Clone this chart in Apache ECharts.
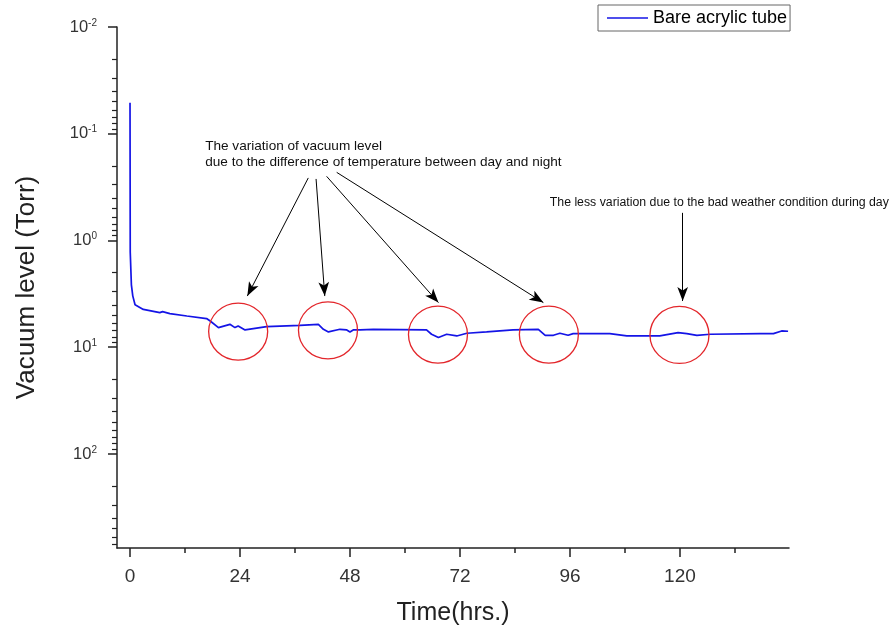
<!DOCTYPE html>
<html>
<head>
<meta charset="utf-8">
<script src="https://cdn.jsdelivr.net/npm/echarts@6/dist/echarts.min.js"></script>
<style>
html,body{margin:0;padding:0;background:#fff;}
#chart{width:895px;height:632px;}
</style>
</head>
<body>
<div id="chart"></div>
<script>
// ---- data ----
const hours = [0, 0.05, 0.3, 0.6, 1.1, 2.9, 6.5, 7.1, 8.7, 12.4, 16.7, 17.5, 19.3, 21.8, 22.9, 23.6, 25.1, 29.8, 37.1, 41.1, 42.2, 43.3, 45.8, 47.3, 48.0, 48.7, 50.2, 53.1, 64.7, 65.8, 67.3, 69.1, 71.3, 73.5, 77.8, 83.6, 89.1, 90.6, 92.4, 93.8, 95.6, 96.7, 104.7, 108.4, 115.6, 119.6, 121.5, 123.7, 126.6, 137.5, 140.4, 142.2, 143.6];
const pressure = [0.0513, 1.29, 2.6, 3.3, 4.0, 4.42, 4.74, 4.64, 4.84, 5.10, 5.39, 5.68, 6.55, 6.10, 6.55, 6.32, 6.89, 6.41, 6.23, 6.10, 6.79, 7.19, 6.79, 6.89, 7.19, 6.89, 6.89, 6.79, 6.89, 7.56, 8.12, 7.56, 7.84, 7.40, 7.19, 6.89, 6.79, 7.73, 7.73, 7.40, 7.73, 7.45, 7.45, 7.84, 7.84, 7.29, 7.45, 7.73, 7.56, 7.45, 7.45, 7.04, 7.08];
const seriesName = 'Bare acrylic tube';

const xTickValues = [0, 24, 48, 72, 96, 120];
const xMinorTickValues = [12, 36, 60, 84, 108, 132];
const yTickValues = [0.01, 0.1, 1, 10, 100];
const yMinorTickValues = [0.02,0.03,0.04,0.05,0.06,0.07,0.08,0.09,
  0.2,0.3,0.4,0.5,0.6,0.7,0.8,0.9,
  2,3,4,5,6,7,8,9,
  20,30,40,50,60,70,80,90,
  200,300,400,500,600,700];

// annotation circles (hour, Torr)
const circleCenters = [[23.6, 7.13], [43.2, 6.94], [67.2, 7.61], [91.4, 7.61], [119.9, 7.67]];
// arrows: [fromHour, fromTorr, toHour, toTorr]
const arrows = [
  [38.9, 0.2594, 25.6, 3.316],
  [40.6, 0.2651, 42.5, 3.316],
  [42.9, 0.2506, 67.3, 3.82],
  [45.1, 0.230, 90.2, 3.82],
  [120.6, 0.551, 120.6, 3.69]
];
const noteDay = ['The variation of vacuum level', 'due to the difference of temperature between day and night'];
const noteDayAt = [16.4, 0.155];
const noteWeather = 'The less variation due to the bad weather condition during day';
const noteWeatherAt = [91.6, 0.4446];

const FONT = 'Arial, "Liberation Sans", sans-serif';

const chart = echarts.init(document.getElementById('chart'), null, {renderer: 'canvas'});

const markPoints = circleCenters.map(c => ({
  coord: c,
  symbol: 'circle',
  symbolSize: [59, 57],
  itemStyle: {color: 'rgba(0,0,0,0)', borderColor: '#e3262b', borderWidth: 1.3},
  label: {show: false}
}));
markPoints.push({
  coord: noteDayAt, symbol: 'circle', symbolSize: 0,
  label: {show: true, position: [0, 0], align: 'left', verticalAlign: 'middle',
    formatter: noteDay.join('\n'), fontSize: 13.6, lineHeight: 15.5, color: '#111', fontFamily: FONT}
});
markPoints.push({
  coord: noteWeatherAt, symbol: 'circle', symbolSize: 0,
  label: {show: true, position: [0, 0], align: 'left', verticalAlign: 'middle',
    formatter: noteWeather, fontSize: 12.3, color: '#111', fontFamily: FONT}
});

const option = {
  animation: false,
  backgroundColor: '#fff',
  grid: {left: 117, right: 106, top: 27, bottom: 84, containLabel: false},
  legend: {
    data: [seriesName], left: 598, top: 5,
    icon: 'rect', itemWidth: 41, itemHeight: 1.5, itemGap: 5,
    padding: [4, 3, 4, 9],
    borderColor: '#666', borderWidth: 1,
    textStyle: {fontSize: 18, color: '#000', fontFamily: FONT}
  },
  xAxis: [{
    type: 'value', min: -2.84, max: 143.8,
    name: 'Time(hrs.)', nameLocation: 'middle', nameGap: 53,
    nameTextStyle: {fontSize: 25, color: '#222', fontFamily: FONT},
    axisLine: {show: true, onZero: false, lineStyle: {color: '#222', width: 1.5}},
    axisTick: {show: true, customValues: xTickValues, length: 9, lineStyle: {color: '#222', width: 1.5}},
    axisLabel: {customValues: xTickValues, fontSize: 19, color: '#333', margin: 19, fontFamily: FONT},
    splitLine: {show: false}
  }, {
    type: 'value', min: -2.84, max: 143.8, position: 'bottom', offset: 0,
    axisLine: {show: false, onZero: false},
    axisTick: {show: true, customValues: xMinorTickValues, length: 5, lineStyle: {color: '#222', width: 1.5}},
    axisLabel: {show: false},
    splitLine: {show: false}
  }],
  yAxis: [{
    type: 'log', logBase: 10, min: 0.01, max: 760, inverse: true,
    name: 'Vacuum level (Torr)', nameLocation: 'middle', nameGap: 77, nameRotate: 90,
    nameTextStyle: {fontSize: 26, color: '#222', fontFamily: FONT},
    axisLine: {show: true, onZero: false, lineStyle: {color: '#222', width: 1.5}},
    axisTick: {show: true, customValues: yTickValues, length: 9, lineStyle: {color: '#222', width: 1.5}},
    axisLabel: {
      customValues: yTickValues, margin: 20, color: '#333', fontFamily: FONT,
      formatter: v => '{b|10}{s|' + Math.round(Math.log10(v)) + '}',
      rich: {
        b: {fontSize: 16.5, color: '#333', fontFamily: FONT, lineHeight: 18},
        s: {fontSize: 10, color: '#333', fontFamily: FONT, verticalAlign: 'top', lineHeight: 18, padding: [0, 0, 6, 0]}
      }
    },
    splitLine: {show: false}
  }, {
    type: 'log', logBase: 10, min: 0.01, max: 760, inverse: true, position: 'left', offset: 0,
    axisLine: {show: false, onZero: false},
    axisTick: {show: true, customValues: yMinorTickValues, length: 5, lineStyle: {color: '#222', width: 1.2}},
    axisLabel: {show: false},
    splitLine: {show: false}
  }],
  series: [{
    name: seriesName, type: 'line', xAxisIndex: 0, yAxisIndex: 0,
    data: hours.map((h, i) => [h, pressure[i]]),
    showSymbol: false, symbol: 'none', clip: false,
    lineStyle: {color: '#1414e6', width: 1.7},
    itemStyle: {color: '#1414e6'},
    markPoint: {silent: true, data: markPoints},
    markLine: {
      silent: true, symbol: ['none', 'arrow'], symbolSize: [8, 14],
      lineStyle: {color: '#000', width: 1, type: 'solid'},
      label: {show: false},
      data: arrows.map(a => [{coord: [a[0], a[1]]}, {coord: [a[2], a[3]]}])
    }
  }]
};
chart.setOption(option);
</script>
</body>
</html>
